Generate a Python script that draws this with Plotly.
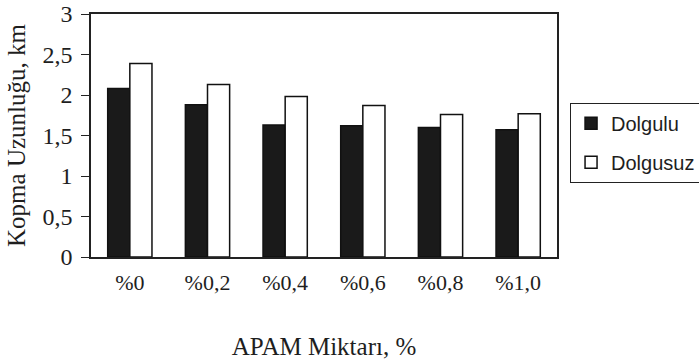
import plotly.graph_objects as go

# APAM amount categories and breaking length (km) for filled / unfilled paper
categories = ["%0", "%0,2", "%0,4", "%0,6", "%0,8", "%1,0"]
dolgulu = [2.08, 1.88, 1.63, 1.62, 1.60, 1.57]
dolgusuz = [2.39, 2.13, 1.98, 1.87, 1.76, 1.77]

serif = "Times New Roman, Liberation Serif, serif"
sans = "Arial, Liberation Sans, sans-serif"
ink = "#1e1e1e"

fig = go.Figure()
fig.add_trace(go.Bar(
    x=categories, y=dolgulu, name="Dolgulu", legendgroup="a",
    marker=dict(color="#1a1a1a", line=dict(color="#111111", width=1.5)),
))
fig.add_trace(go.Bar(
    x=categories, y=dolgusuz, name="Dolgusuz", legendgroup="b",
    marker=dict(color="#ffffff", line=dict(color="#111111", width=1.5)),
))

fig.update_layout(
    width=699, height=363,
    margin=dict(l=91, r=142, t=14, b=106, autoexpand=False),
    paper_bgcolor="white", plot_bgcolor="white",
    barmode="group", bargap=0.43, bargroupgap=0.0,
    separators=",.",
    showlegend=True,
    legend=dict(
        x=1.028, y=0.47, xanchor="left", yanchor="middle",
        bordercolor="#222222", borderwidth=1,
        font=dict(family=sans, size=20, color=ink),
        itemwidth=30, tracegroupgap=10,
    ),
    xaxis=dict(
        showline=True, linecolor="#222222", linewidth=1.5, mirror=True,
        showgrid=False, ticks="",
        ticklabelstandoff=5,
        tickfont=dict(family=serif, size=22, color=ink),
        title=dict(text="APAM Miktarı, %", standoff=43,
                   font=dict(family=serif, size=25, color=ink)),
    ),
    yaxis=dict(
        range=[0, 3], dtick=0.5, tickformat=".1~f",
        showline=True, linecolor="#222222", linewidth=1.5, mirror=True,
        showgrid=False, zeroline=False,
        ticks="outside", ticklen=8, tickcolor="#222222", tickwidth=1.2,
        ticklabelstandoff=4, ticklabeloverflow="allow",
        tickfont=dict(family=serif, size=24, color=ink),
        title=dict(text="Kopma Uzunluğu, km", standoff=10,
                   font=dict(family=serif, size=25, color=ink)),
    ),
)

fig.write_html("out.html")
